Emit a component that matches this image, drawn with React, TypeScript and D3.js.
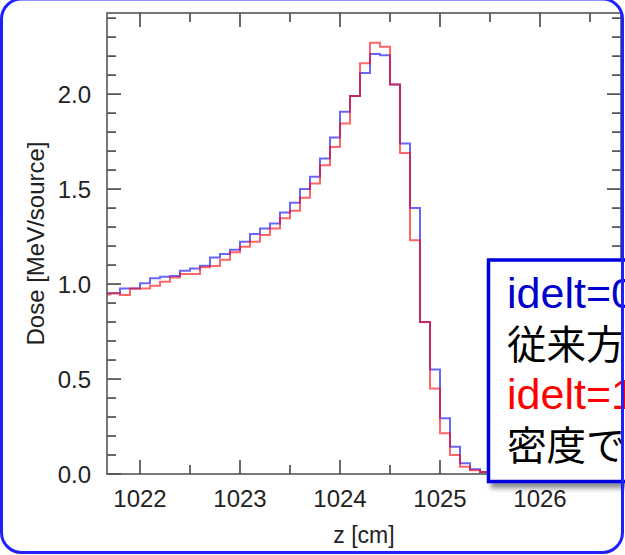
import React from "react";
import * as d3 from "d3";

// bin edges along z [cm] (0.1 cm bins)
const binEdges = [
  1021.6, 1021.7, 1021.8, 1021.9, 1022.0, 1022.1, 1022.2, 1022.3, 1022.4, 1022.5,
  1022.6, 1022.7, 1022.8, 1022.9, 1023.0, 1023.1, 1023.2, 1023.3, 1023.4, 1023.5,
  1023.6, 1023.7, 1023.8, 1023.9, 1024.0, 1024.1, 1024.2, 1024.3, 1024.4, 1024.5,
  1024.6, 1024.7, 1024.8, 1024.9, 1025.0, 1025.1, 1025.2, 1025.3, 1025.4, 1025.5,
  1025.6, 1025.7,
];

// idelt=0 (blue)
const doseIdelt0 = [
  0.951, 0.951, 0.977, 0.977, 1.004, 1.03, 1.039, 1.042, 1.07, 1.082,
  1.096, 1.14, 1.158, 1.18, 1.223, 1.263, 1.293, 1.319, 1.377, 1.428,
  1.5, 1.565, 1.661, 1.772, 1.907, 1.99, 2.111, 2.211, 2.205, 2.05,
  1.74, 1.4, 0.8, 0.55, 0.293, 0.144, 0.056, 0.025, 0.01, 0.005, 0.0,
];

// idelt=1 (red)
const doseIdelt1 = [
  0.945, 0.951, 0.942, 0.977, 0.977, 0.991, 1.012, 1.035, 1.053, 1.053,
  1.088, 1.095, 1.128, 1.168, 1.196, 1.223, 1.258, 1.293, 1.346, 1.386,
  1.454, 1.53, 1.626, 1.721, 1.845, 1.99, 2.163, 2.27, 2.249, 2.05,
  1.69, 1.23, 0.8, 0.45, 0.214, 0.1, 0.038, 0.02, 0.01, 0.005, 0.0,
];

const xMajor = [1022, 1023, 1024, 1025, 1026];
const xMinor = [1022.5, 1023.5, 1024.5, 1025.5, 1026.5];
const yMajor = [0, 0.5, 1.0, 1.5, 2.0];
const yMinor = [0.1, 0.2, 0.3, 0.4, 0.6, 0.7, 0.8, 0.9, 1.1, 1.2, 1.3, 1.4, 1.6, 1.7, 1.8, 1.9, 2.1, 2.2, 2.3, 2.4];

// legend text runs off the right edge of the slide, as in the original
const legendLines = [
  { text: "idelt=0", color: "#0000cc", latin: true },
  { text: "従来方", color: "#000000", latin: false },
  { text: "idelt=1", color: "#ff0000", latin: true },
  { text: "密度で", color: "#000000", latin: false },
];

const W = 625;
const H = 555;
const plot = { left: 107, right: 621, top: 13, bottom: 474 };
const font = "'Liberation Sans', Arial, Helvetica, sans-serif";
const cjk = "'Liberation Sans', 'Noto Sans CJK JP', sans-serif";

export default function App() {
  const x = d3.scaleLinear().domain([1021.67, 1026.81]).range([plot.left, plot.right]);
  const y = d3.scaleLinear().domain([0, 2.427]).range([plot.bottom, plot.top]);

  const step = d3
    .line<[number, number]>()
    .x((d) => x(d[0]))
    .y((d) => y(d[1]))
    .curve(d3.curveStepAfter);

  const pts = (vals: number[]) =>
    binEdges.map((e, i) => [e, vals[Math.min(i, vals.length - 1)]] as [number, number]);

  const majLen = 14;
  const minLen = 9;
  const tickCol = "#444";

  return (
    <svg width={W} height={H} style={{ display: "block", position: "absolute", left: 0, top: 0 }}>
      <defs>
        <clipPath id="plotclip">
          <rect x={plot.left} y={plot.top} width={plot.right - plot.left} height={plot.bottom - plot.top} />
        </clipPath>
        <filter id="shadow" x="-10%" y="-10%" width="130%" height="130%">
          <feDropShadow dx="4" dy="5" stdDeviation="2.5" floodColor="#000" floodOpacity="0.45" />
        </filter>
      </defs>
      <rect width={W} height={H} fill="#fff" />

      {/* histograms */}
      <g clipPath="url(#plotclip)" fill="none" strokeWidth={2}>
        <path d={step(pts(doseIdelt0)) || ""} stroke="#0000ff" strokeOpacity={0.6} />
        <path d={step(pts(doseIdelt1)) || ""} stroke="#ff0000" strokeOpacity={0.6} />
      </g>

      {/* ticks */}
      <g stroke={tickCol} strokeWidth={1.6}>
        {xMajor.map((v) => (
          <g key={"xM" + v}>
            <line x1={x(v)} x2={x(v)} y1={plot.bottom} y2={plot.bottom - majLen} />
            <line x1={x(v)} x2={x(v)} y1={plot.top} y2={plot.top + majLen} />
          </g>
        ))}
        {xMinor.map((v) => (
          <g key={"xm" + v}>
            <line x1={x(v)} x2={x(v)} y1={plot.bottom} y2={plot.bottom - minLen} />
            <line x1={x(v)} x2={x(v)} y1={plot.top} y2={plot.top + minLen} />
          </g>
        ))}
        {yMajor.map((v) => (
          <g key={"yM" + v}>
            <line x1={plot.left} x2={plot.left + majLen} y1={y(v)} y2={y(v)} />
            <line x1={plot.right} x2={plot.right - majLen} y1={y(v)} y2={y(v)} />
          </g>
        ))}
        {yMinor.map((v) => (
          <g key={"ym" + v}>
            <line x1={plot.left} x2={plot.left + minLen} y1={y(v)} y2={y(v)} />
            <line x1={plot.right} x2={plot.right - minLen} y1={y(v)} y2={y(v)} />
          </g>
        ))}
      </g>
      <rect
        x={plot.left}
        y={plot.top}
        width={plot.right - plot.left}
        height={plot.bottom - plot.top}
        fill="none"
        stroke="#555"
        strokeWidth={1.6}
      />

      {/* tick labels */}
      <g fontFamily={font} fontSize={24} fill="#222">
        {xMajor.map((v) => (
          <text key={"xl" + v} x={x(v)} y={507} textAnchor="middle">
            {v}
          </text>
        ))}
        {yMajor.map((v) => (
          <text key={"yl" + v} x={91} y={y(v) + 8.5} textAnchor="end">
            {v.toFixed(1)}
          </text>
        ))}
      </g>

      {/* axis titles */}
      <text x={(plot.left + plot.right) / 2} y={543} textAnchor="middle" fontFamily={font} fontSize={23} fill="#222">
        z [cm]
      </text>
      <text
        transform={`translate(44 ${(plot.top + plot.bottom) / 2}) rotate(-90)`}
        textAnchor="middle"
        fontFamily={font}
        fontSize={24}
        fill="#222"
      >
        Dose [MeV/source]
      </text>

      {/* legend box */}
      <g filter="url(#shadow)">
        <rect x={488.5} y={260} width={200} height={221.5} fill="#fff" stroke="#0000dd" strokeWidth={3.5} />
      </g>
      {legendLines.map((l, i) => (
        <text
          key={i}
          x={507}
          y={[308, 359, 409, 460][i]}
          fontFamily={cjk}
          fontSize={l.latin ? 43 : 39.5}
          fill={l.color}
        >
          {l.text}
        </text>
      ))}

      {/* slide frame */}
      <rect x={1.5} y={-1} width={621} height={553.5} rx={20} fill="none" stroke="#2020ff" strokeWidth={3} />
    </svg>
  );
}
